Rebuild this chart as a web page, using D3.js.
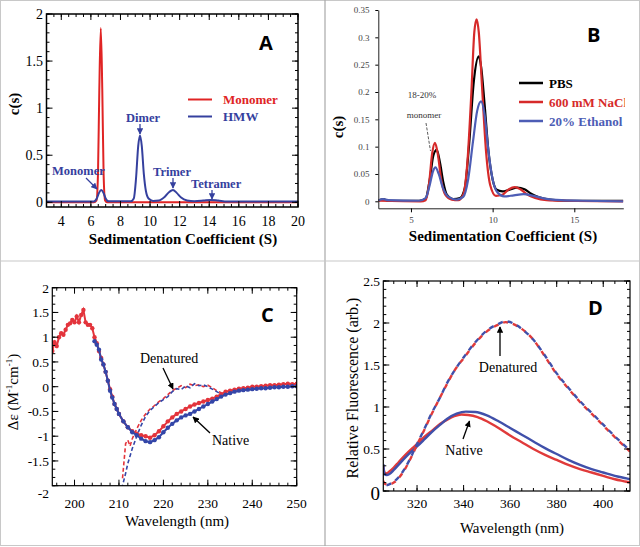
<!DOCTYPE html>
<html>
<head>
<meta charset="utf-8">
<script src="https://cdn.jsdelivr.net/npm/d3@7"></script>
<style>
  body { margin: 0; background: #fff; }
  svg { display: block; }
</style>
</head>
<body>
<svg id="fig" width="640" height="547"></svg>
<script>
// --- DATA ---

// A: c(s) distributions, [S, c(s)]
var monomerA = [[3,0],[6.2,0],[6.38,0.02],[6.48,0.3],[6.57,1.2],[6.67,1.85],[6.77,1.2],[6.86,0.3],[6.96,0.02],[7.1,0],[20,0]];
var hmwA = [[3,0.008],[6.2,0.008],[6.4,0.04],[6.55,0.1],[6.7,0.13],[6.85,0.1],[7.0,0.04],[7.2,0.01],[8.7,0.01],[8.9,0.04],[9.05,0.25],[9.2,0.6],[9.32,0.71],[9.44,0.6],[9.58,0.3],[9.72,0.12],[9.9,0.04],[10.2,0.015],[10.6,0.02],[11.0,0.06],[11.3,0.11],[11.55,0.13],[11.8,0.1],[12.1,0.05],[12.5,0.02],[13.0,0.012],[13.6,0.018],[14.1,0.025],[14.6,0.018],[15.2,0.008],[20,0.008]];
var annotA = [
  {text: "Monomer", tx: 52, ty: 175, from: [86, 178], to: [97, 189]},
  {text: "Dimer", tx: 126, ty: 122, from: [140, 124], to: [140, 134]},
  {text: "Trimer", tx: 153, ty: 176, from: [173, 178], to: [173, 188]},
  {text: "Tetramer", tx: 191, ty: 188, from: [212, 190], to: [212, 199]}
];

// B: c(s) in three buffers
var pbsB = [[3,0.001],[3.3,0.004],[3.6,0.001],[5.5,0.001],[5.9,0.005],[6.15,0.04],[6.38,0.085],[6.58,0.094],[6.78,0.07],[6.98,0.035],[7.2,0.012],[7.6,0.004],[8.0,0.006],[8.3,0.025],[8.55,0.1],[8.85,0.22],[9.15,0.265],[9.3,0.245],[9.5,0.18],[9.75,0.09],[10.0,0.04],[10.25,0.021],[10.6,0.018],[11.0,0.021],[11.5,0.025],[11.95,0.022],[12.3,0.015],[12.8,0.008],[13.5,0.003],[14.5,0.001],[18,0.001]];
var naclB = [[3,0.001],[5.6,0.0],[5.9,0.002],[6.1,0.03],[6.3,0.088],[6.47,0.107],[6.65,0.085],[6.85,0.04],[7.1,0.012],[7.5,0.003],[7.9,0.002],[8.2,0.012],[8.45,0.07],[8.7,0.2],[8.88,0.31],[9.02,0.333],[9.15,0.31],[9.35,0.21],[9.6,0.09],[9.85,0.03],[10.2,0.01],[10.6,0.012],[11.0,0.022],[11.35,0.026],[11.7,0.022],[12.1,0.013],[12.6,0.006],[13.3,0.002],[14.5,0.001],[18,0.0]];
var ethanolB = [[3,0.002],[3.3,0.004],[3.6,0.002],[5.5,0.001],[5.9,0.006],[6.15,0.03],[6.35,0.055],[6.5,0.062],[6.7,0.05],[6.95,0.025],[7.3,0.008],[7.8,0.003],[8.2,0.008],[8.5,0.04],[8.8,0.11],[9.05,0.165],[9.29,0.183],[9.5,0.16],[9.75,0.09],[10.0,0.04],[10.3,0.016],[10.7,0.009],[11.3,0.011],[11.9,0.013],[12.5,0.01],[13.2,0.005],[14.2,0.002],[15.5,0.001],[18,0.0]];
var seriesB = ["PBS", "600 mM NaCl", "20% Ethanol"];

// C: CD spectra, [nm, delta epsilon]
var nativeRedC = [[195,0.72],[195.5,0.9],[196,0.82],[196.5,1.0],[197,1.08],[197.5,1.05],[198,1.15],[198.5,1.25],[199,1.28],[199.5,1.35],[200,1.3],[200.5,1.42],[201,1.3],[201.5,1.45],[202,1.55],[202.5,1.3],[203,1.25],[203.5,1.25],[204,1.18],[204.5,1.0],[205,0.88],[205.5,0.72],[206,0.58],[206.5,0.45],[207,0.3],[207.5,0.12],[208,-0.05],[208.5,-0.2],[209,-0.35],[209.5,-0.45],[210,-0.55],[211,-0.7],[212,-0.82],[213,-0.9],[214,-0.95],[215,-0.98],[216,-1.0],[217,-1.03],[218,-0.98],[219,-0.9],[220,-0.8],[221,-0.7],[222,-0.62],[223,-0.55],[224,-0.5],[225,-0.45],[226,-0.4],[227,-0.36],[228,-0.33],[229,-0.3],[230,-0.27],[231,-0.24],[232,-0.2],[233,-0.15],[234,-0.1],[235,-0.08],[236,-0.06],[237,-0.04],[238,-0.03],[239,-0.02],[240,0.0],[241,0.0],[242,0.01],[243,0.02],[244,0.03],[245,0.03],[246,0.04],[247,0.05],[248,0.06],[249,0.05],[250,0.06]];
var nativeBlueC = [[204.5,0.92],[205,0.85],[205.5,0.75],[206,0.55],[206.5,0.45],[207,0.3],[207.5,0.12],[208,-0.08],[208.5,-0.22],[209,-0.35],[209.5,-0.45],[210,-0.55],[211,-0.7],[212,-0.82],[213,-0.92],[214,-0.98],[215,-1.05],[216,-1.1],[217,-1.12],[218,-1.08],[219,-1.02],[220,-0.92],[221,-0.83],[222,-0.75],[223,-0.68],[224,-0.62],[225,-0.58],[226,-0.55],[227,-0.5],[228,-0.45],[229,-0.4],[230,-0.35],[231,-0.3],[232,-0.25],[233,-0.2],[234,-0.16],[235,-0.13],[236,-0.1],[237,-0.08],[238,-0.07],[239,-0.06],[240,-0.05],[241,-0.04],[242,-0.03],[243,-0.03],[244,-0.02],[245,-0.01],[246,-0.01],[247,0.0],[248,0.0],[249,0.01],[250,0.01]];
var denatRedC = [[210.8,-1.85],[211.5,-1.15],[212,-1.08],[212.5,-1.2],[213,-1.05],[214,-0.85],[215,-0.68],[216,-0.55],[217,-0.45],[218,-0.38],[219,-0.3],[220,-0.24],[221,-0.16],[222,-0.08],[223,-0.03],[224,0.02],[225,-0.02],[226,0.05],[227,0.02],[228,0.04],[229,0.0],[230,0.03],[231,-0.02],[232,-0.08],[233,-0.12]];
var denatBlueC = [[210.8,-2.0],[211.5,-1.75],[212,-1.55],[213,-1.25],[214,-1.0],[215,-0.78],[216,-0.6],[217,-0.48],[218,-0.4],[219,-0.32],[220,-0.26],[221,-0.2],[222,-0.1],[223,-0.04],[224,-0.06],[225,0.02],[226,-0.02],[227,0.06],[228,0.02],[229,0.04],[230,0.0],[231,-0.05],[232,-0.1],[233,-0.15],[234,-0.18]];

// D: fluorescence, [nm, relative fluorescence]
var nativeRedD = [[305.5,0.3],[306,0.22],[307,0.21],[308,0.23],[310,0.28],[312,0.34],[315,0.43],[318,0.51],[320,0.56],[323,0.64],[327,0.73],[330,0.8],[333,0.85],[336,0.89],[339,0.91],[342,0.905],[346,0.88],[350,0.83],[355,0.75],[360,0.66],[365,0.58],[370,0.5],[375,0.43],[380,0.37],[385,0.31],[390,0.26],[395,0.22],[400,0.18],[405,0.14],[410,0.11],[411.5,0.1]];
var nativeBlueD = [[305.5,0.32],[306,0.2],[307,0.19],[308,0.2],[310,0.25],[312,0.31],[315,0.4],[318,0.48],[320,0.53],[323,0.61],[327,0.72],[330,0.79],[333,0.86],[337,0.92],[341,0.945],[345,0.94],[350,0.9],[355,0.83],[360,0.75],[365,0.67],[370,0.59],[375,0.51],[380,0.44],[385,0.37],[390,0.31],[395,0.26],[400,0.22],[405,0.18],[410,0.15],[411.5,0.14]];
var denatRedD = [[305.5,0.12],[306,0.09],[307,0.08],[308,0.08],[310,0.1],[312,0.15],[315,0.27],[318,0.43],[320,0.55],[323,0.72],[326,0.9],[330,1.12],[333,1.28],[336,1.43],[340,1.58],[345,1.76],[350,1.9],[355,1.98],[358,2.01],[361,1.99],[365,1.93],[370,1.8],[375,1.6],[380,1.39],[385,1.22],[390,1.06],[395,0.92],[400,0.78],[405,0.64],[410,0.51],[411.5,0.47]];
var denatBlueD = [[305.5,0.11],[306,0.08],[307,0.07],[308,0.08],[310,0.11],[312,0.16],[315,0.28],[318,0.44],[320,0.56],[323,0.73],[326,0.91],[330,1.12],[333,1.29],[336,1.43],[340,1.59],[345,1.77],[350,1.91],[355,1.99],[358,2.02],[361,2.0],[365,1.93],[370,1.8],[375,1.61],[380,1.4],[385,1.23],[390,1.07],[395,0.93],[400,0.79],[405,0.65],[410,0.52],[411.5,0.48]];

// --- STYLE ---
// the renderer only honours a single family name, so no fallback lists
var SERIF = "'Liberation Serif'";
var SANS = "'Open Sans'";
var redA = "#e02424", blueA = "#35409e";
var redB = "#d62a2a", blueB = "#4d5db5";
var redC = "#e3343c", blueC = "#3446a8";
var redD = "#e03a3a", blueD = "#4050aa";

var svg = d3.select("#fig");

// markers for annotation arrows
var defs = svg.append("defs");
function marker(id, color) {
    defs.append("marker").attr("id", id)
        .attr("viewBox", "0 0 10 10").attr("refX", 9).attr("refY", 5)
        .attr("markerWidth", 5).attr("markerHeight", 5).attr("orient", "auto")
        .append("path").attr("d", "M0,0L10,5L0,10z").attr("fill", color);
}
marker("ahBlue", blueA);
marker("ahBlack", "#000");

// figure frame and dividers
svg.append("rect").attr("x", 0.5).attr("y", 0.5).attr("width", 639).attr("height", 545)
    .attr("fill", "none").attr("stroke", "#c8c8c8");
svg.append("line").attr("x1", 325).attr("x2", 325).attr("y1", 0).attr("y2", 546)
    .attr("stroke", "#a8a8a8").attr("stroke-width", 1.2);
svg.append("line").attr("x1", 0).attr("x2", 640).attr("y1", 261).attr("y2", 261)
    .attr("stroke", "#c8c8c8").attr("stroke-width", 1.2);

// boxed axes with inward ticks on every side
function boxAxes(g, x, y, xMaj, xMin, yMaj, yMin, sw) {
    var l = x.range()[0], r = x.range()[1], b = y.range()[0], t = y.range()[1];
    g.append("rect").attr("x", l).attr("y", t).attr("width", r - l).attr("height", b - t)
        .attr("fill", "none").attr("stroke", "#000").attr("stroke-width", sw);
    var p = "";
    xMin.forEach(function(v) { var X = x(v); p += "M" + X + "," + b + "v-3M" + X + "," + t + "v3"; });
    xMaj.forEach(function(v) { var X = x(v); p += "M" + X + "," + b + "v-6M" + X + "," + t + "v6"; });
    yMin.forEach(function(v) { var Y = y(v); p += "M" + l + "," + Y + "h3M" + r + "," + Y + "h-3"; });
    yMaj.forEach(function(v) { var Y = y(v); p += "M" + l + "," + Y + "h6M" + r + "," + Y + "h-6"; });
    g.append("path").attr("d", p).attr("fill", "none").attr("stroke", "#000").attr("stroke-width", 1);
}

function clip(id, x, y) {
    defs.append("clipPath").attr("id", id).append("rect")
        .attr("x", x.range()[0]).attr("y", y.range()[1])
        .attr("width", x.range()[1] - x.range()[0]).attr("height", y.range()[0] - y.range()[1]);
}

function label(g, txt, x, y, size, opts) {
    opts = opts || {};
    return g.append("text").attr("x", x).attr("y", y).text(txt)
        .style("font-family", opts.family || SERIF).style("font-size", size + "px")
        .style("font-weight", opts.bold ? "bold" : "normal")
        .attr("fill", opts.color || "#000")
        .attr("text-anchor", opts.anchor || "start");
}

function panelLetter(txt, x, y) {
    svg.append("text").attr("x", x).attr("y", y).text(txt)
        .style("font-family", SANS).style("font-weight", 700).style("font-size", "20px");
}

// ===== PANEL A =====
var gA = svg.append("g");
var xA = d3.scaleLinear().domain([3, 20]).range([46.5, 298]);
var yA = d3.scaleLinear().domain([-0.05, 2]).range([207, 14]);
clip("clipA", xA, yA);
var lineA = d3.line().x(d => xA(d[0])).y(d => yA(d[1])).curve(d3.curveMonotoneX);

gA.append("g").attr("clip-path", "url(#clipA)").selectAll("path")
    .data([{d: monomerA, c: redA}, {d: hmwA, c: blueA}]).enter().append("path")
    .attr("d", s => lineA(s.d)).attr("fill", "none").attr("stroke", s => s.c).attr("stroke-width", 2);

boxAxes(gA, xA, yA, d3.range(4, 20.1, 2), d3.range(3, 20.01, 0.5), d3.range(0, 2.01, 0.5), d3.range(0, 2.01, 0.1), 1.5);
d3.range(4, 20.1, 2).forEach(v => label(gA, v, xA(v), 226, 14, {anchor: "middle"}));
[0, 0.5, 1, 1.5, 2].forEach(v => label(gA, v, 43, yA(v) + 5, 14, {anchor: "end"}));
label(gA, "Sedimentation Coefficient (S)", 183, 244, 15, {bold: true, anchor: "middle"});
label(gA, "c(s)", 0, 0, 15, {bold: true, anchor: "middle"}).attr("transform", "translate(19,104) rotate(-90)");
panelLetter("A", 259, 50);

// legend
[["Monomer", redA, 99.5], ["HMW", blueA, 116.5]].forEach(function(e) {
    gA.append("line").attr("x1", 188).attr("x2", 212).attr("y1", e[2]).attr("y2", e[2])
        .attr("stroke", e[1]).attr("stroke-width", 2);
    label(gA, e[0], 223, e[2] + 4.5, 13, {bold: true, color: e[1]});
});
// peak annotations
annotA.forEach(function(a) {
    label(gA, a.text, a.tx, a.ty, 12.5, {bold: true, color: blueA});
    gA.append("line").attr("x1", a.from[0]).attr("y1", a.from[1]).attr("x2", a.to[0]).attr("y2", a.to[1])
        .attr("stroke", blueA).attr("stroke-width", 1.3).attr("marker-end", "url(#ahBlue)");
});

// ===== PANEL B =====
var gB = svg.append("g");
var xB = d3.scaleLinear().domain([3, 18]).range([378.3, 623.3]);
var yB = d3.scaleLinear().domain([-0.0128, 0.35]).range([208.3, 10]);
clip("clipB", xB, yB);
var lineB = d3.line().x(d => xB(d[0])).y(d => yB(d[1])).curve(d3.curveMonotoneX);
var colB = ["#000", redB, blueB];
gB.append("g").attr("clip-path", "url(#clipB)").selectAll("path")
    .data([pbsB, naclB, ethanolB]).enter().append("path")
    .attr("d", d => lineB(d)).attr("fill", "none")
    .attr("stroke", (d, i) => colB[i]).attr("stroke-width", 2.2);

gB.append("g").attr("transform", "translate(0," + yB.range()[0] + ")")
    .call(d3.axisBottom(xB).tickValues([5, 10, 15]).tickSize(4).tickSizeOuter(0))
    .call(g => g.selectAll("text").style("font-family", SERIF).style("font-size", "9px").attr("fill", "#444").attr("dy", "0.9em"));
gB.append("g").attr("transform", "translate(" + xB.range()[0] + ",0)")
    .call(d3.axisLeft(yB).tickValues(d3.range(0, 0.351, 0.05)).tickFormat(d3.format("~g")).tickSize(3).tickSizeOuter(0))
    .call(g => g.selectAll("text").style("font-family", SERIF).style("font-size", "9px").attr("fill", "#444").attr("dx", "-0.3em"));
gB.selectAll(".domain").attr("stroke", "#222");

label(gB, "Sedimentation Coefficient (S)", 503, 241, 15, {bold: true, anchor: "middle"});
label(gB, "c(s)", 0, 0, 15, {bold: true, anchor: "middle"}).attr("transform", "translate(343,127) rotate(-90)");
panelLetter("B", 587, 42);

// legend text is cut at the plot's right edge, as in the source figure
defs.append("clipPath").attr("id", "clipLegB").append("rect")
    .attr("x", 500).attr("y", 60).attr("width", xB.range()[1] + 1.5 - 500).attr("height", 80);
var legB = gB.append("g").attr("clip-path", "url(#clipLegB)");
seriesB.forEach(function(name, i) {
    var yy = 83 + i * 19;
    legB.append("line").attr("x1", 519).attr("x2", 543).attr("y1", yy).attr("y2", yy)
        .attr("stroke", colB[i]).attr("stroke-width", 2.5);
    label(legB, name, 549, yy + 4.5, 13, {bold: true, color: colB[i]});
});
label(gB, "18-20%", 422, 98, 9, {anchor: "middle", color: "#333"});
label(gB, "monomer", 424, 118, 9, {anchor: "middle", color: "#333"});
gB.append("line").attr("x1", 426).attr("y1", 123).attr("x2", 430.5).attr("y2", 151)
    .attr("stroke", "#333").attr("stroke-width", 0.8).attr("stroke-dasharray", "3,1.5");

// ===== PANEL C =====
var gC = svg.append("g");
var xC = d3.scaleLinear().domain([195, 250]).range([52.3, 296.7]);
var yC = d3.scaleLinear().domain([-2, 2]).range([485.7, 287.7]);
clip("clipC", xC, yC);
var lineC = d3.line().x(d => xC(d[0])).y(d => yC(d[1]));
var cC = gC.append("g").attr("clip-path", "url(#clipC)");
[{d: denatRedC, c: redC, off: 0}, {d: denatBlueC, c: blueC, off: 3}].forEach(function(s) {
    cC.append("path").attr("d", lineC(s.d)).attr("fill", "none").attr("stroke", s.c)
        .attr("stroke-width", 1.6).attr("stroke-dasharray", "4,2.5").attr("stroke-dashoffset", s.off);
});
[{d: nativeRedC, c: redC}, {d: nativeBlueC, c: blueC}].forEach(function(s) {
    cC.append("path").attr("d", lineC(s.d)).attr("fill", "none").attr("stroke", s.c).attr("stroke-width", 2);
    cC.selectAll(null).data(s.d).enter().append("circle")
        .attr("cx", d => xC(d[0])).attr("cy", d => yC(d[1])).attr("r", 2.2).attr("fill", s.c);
});
boxAxes(gC, xC, yC, d3.range(200, 250.1, 10), d3.range(196, 250.1, 2), d3.range(-2, 2.01, 0.5), d3.range(-2, 2.01, 0.5 / 3), 1.2);
d3.range(200, 250.1, 10).forEach(v => label(gC, v, xC(v), 508, 13.5, {anchor: "middle"}));
d3.range(-2, 2.01, 0.5).forEach(function(v) {
    var v2 = Math.round(v * 10) / 10;
    label(gC, v2, 49, yC(v2) + 5 + (v2 === -2 ? 7 : 0), 13.5, {anchor: "end"});
});
label(gC, "Wavelength (nm)", 177, 526, 15, {anchor: "middle"});
var yl = label(gC, "", 0, 0, 15, {anchor: "middle"}).attr("transform", "translate(18,392) rotate(-90)");
yl.append("tspan").text("\u0394\u03b5  (M");
yl.append("tspan").text("-1").style("font-size", "9px").attr("dy", -6);
yl.append("tspan").text("cm").attr("dy", 6);
yl.append("tspan").text("-1").style("font-size", "9px").attr("dy", -6);
yl.append("tspan").text(")").attr("dy", 6);
panelLetter("C", 261, 322);
label(gC, "Denatured", 140, 363, 14);
gC.append("line").attr("x1", 163).attr("y1", 368).attr("x2", 173).attr("y2", 389)
    .attr("stroke", "#000").attr("stroke-width", 1.3).attr("marker-end", "url(#ahBlack)");
label(gC, "Native", 212, 445, 14);
gC.append("line").attr("x1", 210).attr("y1", 433).attr("x2", 193).attr("y2", 417)
    .attr("stroke", "#000").attr("stroke-width", 1.3).attr("marker-end", "url(#ahBlack)");

// ===== PANEL D =====
var gD = svg.append("g");
var xD = d3.scaleLinear().domain([305.5, 411.5]).range([383.3, 630]);
var yD = d3.scaleLinear().domain([0, 2.5]).range([491, 281]);
clip("clipD", xD, yD);
var lineD = d3.line().x(d => xD(d[0])).y(d => yD(d[1])).curve(d3.curveMonotoneX);
var cD = gD.append("g").attr("clip-path", "url(#clipD)");
[{d: nativeRedD, c: redD}, {d: nativeBlueD, c: blueD}].forEach(function(s) {
    cD.append("path").attr("d", lineD(s.d)).attr("fill", "none").attr("stroke", s.c).attr("stroke-width", 2.4);
});
[{d: denatRedD, c: redD, off: 0}, {d: denatBlueD, c: blueD, off: 5}].forEach(function(s) {
    cD.append("path").attr("d", lineD(s.d)).attr("fill", "none").attr("stroke", s.c)
        .attr("stroke-width", 2.4).attr("stroke-dasharray", "5,5").attr("stroke-dashoffset", s.off);
});
boxAxes(gD, xD, yD, d3.range(320, 411, 20), d3.range(310, 411, 5), d3.range(0, 2.51, 0.5), d3.range(0, 2.51, 0.1), 1.2);
d3.range(320, 411, 20).forEach(v => label(gD, v, xD(v), 508, 13.5, {anchor: "middle"}));
d3.range(0, 2.51, 0.5).forEach(function(v) {
    var v2 = Math.round(v * 10) / 10;
    if (v2 === 0) label(gD, "0", 380, yD(0) + 9, 19, {anchor: "end"});
    else label(gD, v2, 380, yD(v2) + 5, 13.5, {anchor: "end"});
});
label(gD, "Wavelength (nm)", 512, 533, 15, {anchor: "middle"});
label(gD, "Relative Fluorescence (arb.)", 0, 0, 16, {anchor: "middle"}).attr("transform", "translate(358,388) rotate(-90)");
panelLetter("D", 588, 315);
label(gD, "Denatured", 508, 372, 14, {anchor: "middle"});
gD.append("line").attr("x1", 500).attr("y1", 356).attr("x2", 500).attr("y2", 327)
    .attr("stroke", "#000").attr("stroke-width", 1.3).attr("marker-end", "url(#ahBlack)");
label(gD, "Native", 464, 455, 14, {anchor: "middle"});
gD.append("line").attr("x1", 463).attr("y1", 439).attr("x2", 469.5).attr("y2", 421)
    .attr("stroke", "#000").attr("stroke-width", 1.3).attr("marker-end", "url(#ahBlack)");
</script>
</body>
</html>
